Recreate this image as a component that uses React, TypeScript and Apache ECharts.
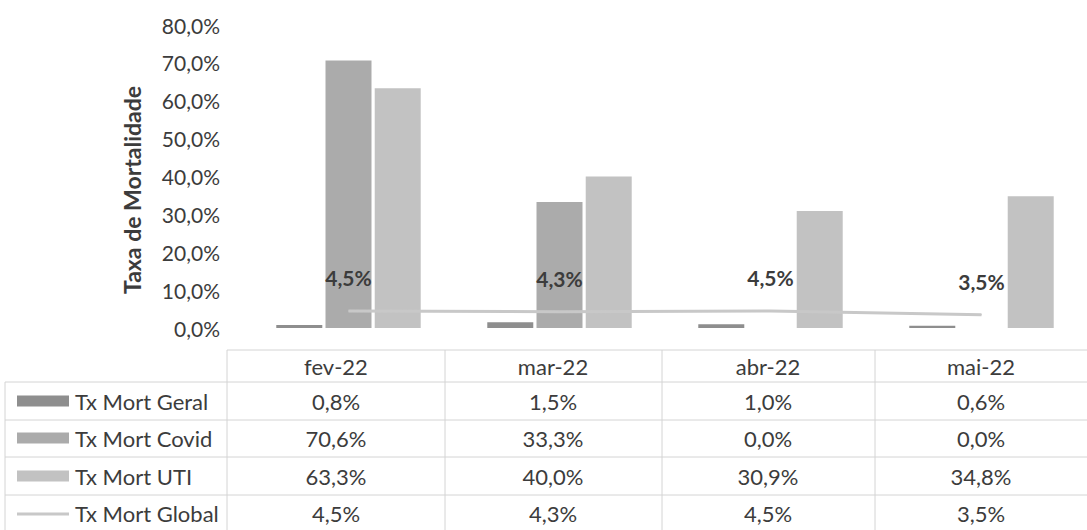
import React, { useEffect, useRef } from "react";
import * as echarts from "echarts";

const categories = ["fev-22", "mar-22", "abr-22", "mai-22"];
const seriesNames = ["Tx Mort Geral", "Tx Mort Covid", "Tx Mort UTI", "Tx Mort Global"];
const geral = [0.8, 1.5, 1.0, 0.6];
const covid = [70.6, 33.3, 0.0, 0.0];
const uti = [63.3, 40.0, 30.9, 34.8];
const global = [4.5, 4.3, 4.5, 3.5];
const yTicks = [0, 10, 20, 30, 40, 50, 60, 70, 80];
const yTitle = "Taxa de Mortalidade";

const colors = ["#8e8e8e", "#ababab", "#c2c2c2", "#c8c8c8"];
const FONT = "Lato, 'Noto Sans', sans-serif";
const TXT = "#3c3c3c";

const fmt = (v: number) => v.toFixed(1).replace(".", ",") + "%";

export default function App() {
  const ref = useRef<HTMLDivElement>(null);
  useEffect(() => {
    document.body.style.margin = "0";
    if (!ref.current) return;
    const chart = echarts.init(ref.current, undefined, { renderer: "svg" });

    const colBorders = [227, 445, 662, 875];
    const colCenters = [336, 553, 768, 981];
    const rowCenters = [366, 401, 438, 476, 513];
    const hLines = [382, 420, 457, 495];
    const lineColor = "#d4d4d4";
    const graphics: any[] = [];

    graphics.push({
      type: "text",
      x: 132,
      y: 190,
      rotation: Math.PI / 2,
      style: { text: yTitle, fill: TXT, font: `bold 23px ${FONT}`, align: "center", verticalAlign: "middle" },
    });

    graphics.push({ type: "line", shape: { x1: 227, y1: 350, x2: 1087, y2: 350 }, style: { stroke: lineColor, lineWidth: 1 } });
    hLines.forEach((y) =>
      graphics.push({ type: "line", shape: { x1: 5, y1: y, x2: 1087, y2: y }, style: { stroke: lineColor, lineWidth: 1 } })
    );
    colBorders.forEach((x) =>
      graphics.push({ type: "line", shape: { x1: x, y1: 350, x2: x, y2: 530 }, style: { stroke: lineColor, lineWidth: 1 } })
    );
    graphics.push({ type: "line", shape: { x1: 5, y1: 382, x2: 5, y2: 530 }, style: { stroke: lineColor, lineWidth: 1 } });

    categories.forEach((c, i) =>
      graphics.push({
        type: "text",
        x: colCenters[i],
        y: rowCenters[0],
        style: { text: c, fill: TXT, font: `22px ${FONT}`, align: "center", verticalAlign: "middle" },
      })
    );
    const tableData = [geral, covid, uti, global];
    tableData.forEach((arr, r) => {
      const y = rowCenters[r + 1];
      if (r < 3) {
        graphics.push({ type: "rect", shape: { x: 17, y: y - 5.5, width: 52, height: 11 }, style: { fill: colors[r] } });
      } else {
        graphics.push({ type: "line", shape: { x1: 17, y1: y + 1, x2: 69, y2: y + 1 }, style: { stroke: colors[r], lineWidth: 3 } });
      }
      graphics.push({
        type: "text",
        x: 75,
        y,
        style: { text: seriesNames[r], fill: TXT, font: `22px ${FONT}`, align: "left", verticalAlign: "middle" },
      });
      arr.forEach((v, i) =>
        graphics.push({
          type: "text",
          x: colCenters[i],
          y,
          style: { text: fmt(v), fill: TXT, font: `22px ${FONT}`, align: "center", verticalAlign: "middle" },
        })
      );
    });

    chart.setOption({
      animation: false,
      textStyle: { fontFamily: FONT },
      grid: { left: 243, width: 853, top: 25, height: 303 },
      xAxis: {
        type: "category",
        data: categories,
        axisLine: { show: false },
        axisTick: { show: false },
        axisLabel: { show: false },
      },
      yAxis: {
        type: "value",
        min: yTicks[0],
        max: yTicks[yTicks.length - 1],
        interval: 10,
        splitLine: { show: false },
        axisLine: { show: false },
        axisTick: { show: false },
        axisLabel: { margin: 23, fontSize: 21, color: TXT, fontFamily: FONT, formatter: (v: number) => fmt(v) },
      },
      series: [
        { name: seriesNames[0], type: "bar", data: geral, barWidth: 46, barGap: "7%", itemStyle: { color: colors[0] } },
        { name: seriesNames[1], type: "bar", data: covid, barWidth: 46, barGap: "7%", itemStyle: { color: colors[1] } },
        { name: seriesNames[2], type: "bar", data: uti, barWidth: 46, barGap: "7%", itemStyle: { color: colors[2] } },
        {
          name: seriesNames[3],
          type: "line",
          data: global,
          z: 5,
          symbol: "circle",
          symbolSize: 1,
          lineStyle: { color: colors[3], width: 3 },
          itemStyle: { color: colors[3] },
          label: {
            show: true,
            position: "top",
            distance: 22,
            fontSize: 21,
            fontWeight: "bold",
            color: TXT,
            fontFamily: FONT,
            formatter: (p: any) => fmt(p.value),
          },
        },
      ],
      graphic: graphics,
    });
    return () => chart.dispose();
  }, []);
  return <div ref={ref} style={{ width: 1087, height: 530 }} />;
}
